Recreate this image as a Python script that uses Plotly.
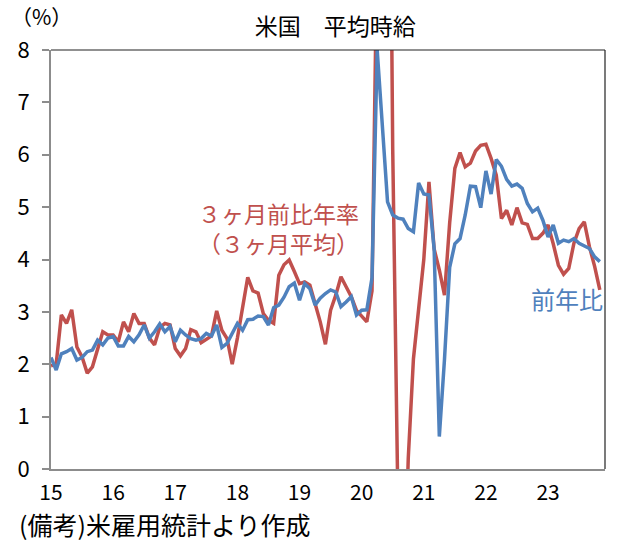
import plotly.graph_objects as go

# monthly, Jan 2015 .. Nov 2023 (index 0 = Jan 2015)
year_labels = ["15", "16", "17", "18", "19", "20", "21", "22", "23"]

# 前年比 (YoY, %)
yoy = [
    2.13, 1.89, 2.20, 2.24, 2.30, 2.08, 2.13, 2.24, 2.27, 2.46, 2.37, 2.50,
    2.53, 2.35, 2.35, 2.53, 2.43, 2.56, 2.75, 2.50, 2.62, 2.77, 2.62, 2.72,
    2.43, 2.65, 2.56, 2.49, 2.46, 2.49, 2.59, 2.54, 2.75, 2.32, 2.40, 2.60,
    2.78, 2.65, 2.85, 2.86, 2.92, 2.91, 2.75, 3.08, 3.13, 3.28, 3.48, 3.55,
    3.22, 3.54, 3.44, 3.13, 3.26, 3.35, 3.42, 3.38, 3.10, 3.19, 3.29, 2.94,
    3.03, 3.04, 3.65, 8.00, 6.60, 5.10, 4.85, 4.79, 4.77, 4.59, 4.53, 5.46,
    5.25, 5.23, 4.20, 0.62, 2.10, 3.85, 4.30, 4.40, 4.85, 5.40, 5.39, 4.99,
    5.69, 5.25, 5.91, 5.78, 5.53, 5.40, 5.44, 5.36, 5.07, 4.91, 4.98, 4.75,
    4.43, 4.66, 4.31, 4.37, 4.34, 4.40, 4.31, 4.26, 4.21, 4.05, 3.96,
]

# 3ヶ月前比年率 (3ヶ月平均, %)
ann3m = [
    1.97, 2.00, 2.94, 2.78, 3.04, 2.33, 2.14, 1.83, 1.95, 2.27, 2.62, 2.56,
    2.56, 2.43, 2.81, 2.62, 2.97, 2.78, 2.78, 2.50, 2.37, 2.70, 2.78, 2.75,
    2.30, 2.16, 2.30, 2.66, 2.62, 2.41, 2.47, 2.54, 3.02, 2.65, 2.49, 2.00,
    2.50, 3.10, 3.66, 3.40, 3.36, 2.97, 2.84, 2.78, 3.70, 3.90, 3.99, 3.77,
    3.54, 3.57, 3.51, 3.16, 2.81, 2.38, 3.03, 3.32, 3.67, 3.48, 3.29, 3.03,
    2.91, 2.81, 3.40, 10.2, 15.3, 17.6, 6.10, -0.60, -3.20, 0.20, 2.10, 3.00,
    4.00, 5.48, 4.20, 3.80, 3.32, 4.70, 5.74, 6.04, 5.77, 5.84, 6.07, 6.18,
    6.20, 5.93, 5.61, 4.78, 4.94, 4.66, 4.99, 4.70, 4.67, 4.40, 4.40, 4.50,
    4.66, 4.30, 3.89, 3.72, 3.83, 4.31, 4.59, 4.72, 4.24, 3.87, 3.42,
]

RED = "#C0504D"
BLUE = "#4F81BD"
FONT = "Noto Sans CJK JP"

months = list(range(len(yoy)))

fig = go.Figure()
fig.add_trace(go.Scatter(x=months, y=ann3m, mode="lines",
                         line=dict(color=RED, width=3.5), showlegend=False))
fig.add_trace(go.Scatter(x=months, y=yoy, mode="lines",
                         line=dict(color=BLUE, width=3.5), showlegend=False))

fig.update_layout(
    width=628, height=548,
    margin=dict(l=51, r=23, t=50, b=79),
    paper_bgcolor="white", plot_bgcolor="white",
    font=dict(family=FONT, size=21, color="black"),
    title=dict(text="米国　平均時給", x=0.534, xanchor="center",
               y=0.95, yanchor="middle", font=dict(size=23)),
    xaxis=dict(range=[0, 107], showgrid=False, zeroline=False,
               showline=True, linecolor="#8c8c8c", linewidth=2,
               tickmode="array", tickvals=[12 * k for k in range(len(year_labels))],
               ticktext=year_labels, ticks="", tickfont=dict(size=21),
               ticklabelstandoff=4),
    yaxis=dict(range=[0, 8], dtick=1, showgrid=False, zeroline=False,
               showline=True, linecolor="#8c8c8c", linewidth=2,
               ticks="outside", ticklen=7, tickcolor="#8c8c8c", tickwidth=2,
               ticklabelstandoff=8, tickfont=dict(size=22)),
)

# plot-area border (top and right)
fig.add_shape(type="line", xref="paper", yref="paper", x0=0, x1=1, y0=1, y1=1,
              line=dict(color="#222222", width=1.2))
fig.add_shape(type="line", xref="paper", yref="paper", x0=1, x1=1, y0=0, y1=1,
              line=dict(color="#222222", width=1.2))

fig.add_annotation(text="（%）", xref="paper", yref="paper", x=-0.075, y=1.082,
                   xanchor="left", yanchor="middle", showarrow=False,
                   font=dict(size=21))
fig.add_annotation(text="３ヶ月前比年率<br>（３ヶ月平均）", xref="paper", yref="paper",
                   x=0.262, y=0.574, xanchor="left", yanchor="middle", align="left",
                   showarrow=False, font=dict(size=23, color=RED))
fig.add_annotation(text="前年比", xref="paper", yref="paper",
                   x=1.0, y=0.408, xanchor="right", yanchor="middle",
                   showarrow=False, font=dict(size=24, color=BLUE))
fig.add_annotation(text="(備考)米雇用統計より作成", xref="paper", yref="paper",
                   x=-0.061, y=-0.132, xanchor="left", yanchor="middle",
                   showarrow=False, font=dict(size=25))

fig.write_html("out.html", config={"displayModeBar": False},
               post_script="document.body.style.margin='0';")
